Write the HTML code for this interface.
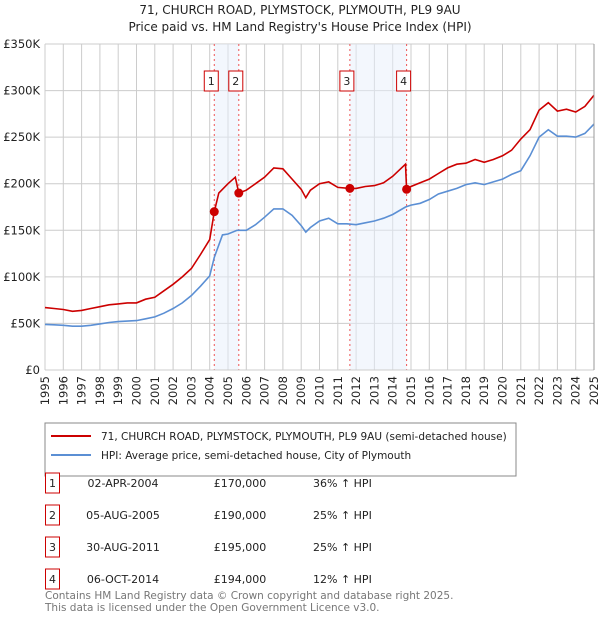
<!DOCTYPE html>
<html><head><meta charset="utf-8"><style>
body{margin:0;background:#fff;font-family:"Liberation Sans","DejaVu Sans",sans-serif}
svg text{font-family:"DejaVu Sans","Liberation Sans",sans-serif}
</style></head><body>
<svg id="c" width="600" height="620" xmlns="http://www.w3.org/2000/svg">
<text x="300" y="14" text-anchor="middle" font-size="12" fill="#222">71, CHURCH ROAD, PLYMSTOCK, PLYMOUTH, PL9 9AU</text>
<text x="300" y="31" text-anchor="middle" font-size="12" fill="#222">Price paid vs. HM Land Registry's House Price Index (HPI)</text>
<g id="grid"></g><g id="shade"></g><g id="lines"></g><g id="marks"></g><g id="axes"></g>
<rect x="45" y="423" width="471" height="53" fill="#fff" stroke="#888"/>
<line x1="51" y1="436" x2="91" y2="436" stroke="#cc0000" stroke-width="2"/>
<text x="101" y="440" font-size="10.5" fill="#222">71, CHURCH ROAD, PLYMSTOCK, PLYMOUTH, PL9 9AU (semi-detached house)</text>
<line x1="51" y1="455" x2="91" y2="455" stroke="#5b8fd4" stroke-width="2"/>
<text x="101" y="459" font-size="10.5" fill="#222">HPI: Average price, semi-detached house, City of Plymouth</text>
<g id="table"></g>
<text x="45" y="599" font-size="10.5" fill="#777">Contains HM Land Registry data © Crown copyright and database right 2025.</text>
<text x="45" y="611" font-size="10.5" fill="#777">This data is licensed under the Open Government Licence v3.0.</text>
</svg>
<script>
const hpiYears=[1995,1995.5,1996,1996.5,1997,1997.5,1998,1998.5,1999,1999.5,2000,2000.5,2001,2001.5,2002,2002.5,2003,2003.5,2004,2004.25,2004.7,2005,2005.5,2006,2006.5,2007,2007.5,2008,2008.5,2009,2009.25,2009.5,2010,2010.5,2011,2011.5,2012,2012.5,2013,2013.5,2014,2014.7,2015,2015.5,2016,2016.5,2017,2017.5,2018,2018.5,2019,2019.5,2020,2020.5,2021,2021.5,2022,2022.5,2023,2023.5,2024,2024.5,2025];
const hpiValues=[49,48.5,48,47,47,48,49.5,51,52,52.5,53,55,57,61,66,72,80,90,101,121,145,146,150,150,156,164,173,173,166,155,148,153,160,163,157,157,156,158,160,163,167,175,177,179,183,189,192,195,199,201,199,202,205,210,214,230,250,258,251,251,250,254,264];
const propYears=[1995,1995.5,1996,1996.5,1997,1997.5,1998,1998.5,1999,1999.5,2000,2000.5,2001,2001.5,2002,2002.5,2003,2003.5,2004,2004.25,2004.5,2005,2005.4,2005.59,2006,2006.5,2007,2007.5,2008,2008.5,2009,2009.25,2009.5,2010,2010.5,2011,2011.66,2012,2012.5,2013,2013.5,2014,2014.7,2014.76,2015,2015.5,2016,2016.5,2017,2017.5,2018,2018.5,2019,2019.5,2020,2020.5,2021,2021.5,2022,2022.5,2023,2023.5,2024,2024.5,2025];
const propValues=[67,66,65,63,64,66,68,70,71,72,72,76,78,85,92,100,109,124,140,170,190,200,207,190,193,200,207,217,216,205,194,185,193,200,202,196,195,195,197,198,201,208,221,194,197,201,205,211,217,221,222,226,223,226,230,236,248,258,279,287,278,280,277,283,295];
const saleYears=[2004.25,2005.59,2011.66,2014.76];
const salePrices=[170,190,195,194];
const saleLabels=["1","2","3","4"];
const saleDates=["02-APR-2004","05-AUG-2005","30-AUG-2011","06-OCT-2014"];
const salePriceText=["£170,000","£190,000","£195,000","£194,000"];
const salePct=["36% ↑ HPI","25% ↑ HPI","25% ↑ HPI","12% ↑ HPI"];
const yTicks=[0,50,100,150,200,250,300,350];
const yTickLabels=["£0","£50K","£100K","£150K","£200K","£250K","£300K","£350K"];
const xTicks=[1995,1996,1997,1998,1999,2000,2001,2002,2003,2004,2005,2006,2007,2008,2009,2010,2011,2012,2013,2014,2015,2016,2017,2018,2019,2020,2021,2022,2023,2024,2025];

const NS="http://www.w3.org/2000/svg";
const X0=45,X1=594,Y0=370,Y1=44;
const xs=v=>X0+(v-1995)/30*(X1-X0);
const ys=v=>Y0-v/350*(Y0-Y1);
function mk(tag,attrs,parent,txt){const e=document.createElementNS(NS,tag);for(const k in attrs)e.setAttribute(k,attrs[k]);if(txt!==undefined)e.textContent=txt;document.getElementById(parent).appendChild(e);return e;}
yTicks.forEach((t,i)=>{
 const l=mk('line',{x1:X0,x2:X1,y1:ys(t),y2:ys(t),stroke:'#cccccc'},'grid');
 
 
 const tx=mk('text',{x:40,y:ys(t)+4,'text-anchor':'end','font-size':'11.5',fill:'#222'},'axes',yTickLabels[i]);
 
 
});
xTicks.forEach(t=>{
 const l=mk('line',{x1:xs(t),x2:xs(t),y1:Y1,y2:Y0,stroke:'#cccccc'},'grid');
 
 
 const tx=mk('text',{x:0,y:0,'text-anchor':'end','font-size':'11.5',fill:'#222',transform:`translate(${xs(t)+4},376) rotate(-90)`},'axes',String(t));
 
 
});
[[0,1],[2,3]].forEach(p=>{
 const r=mk('rect',{x:xs(saleYears[p[0]]),y:Y1,width:xs(saleYears[p[1]])-xs(saleYears[p[0]]),height:Y0-Y1,fill:'#e8effc',opacity:0.5},'shade');
 
 
});
saleYears.forEach((s,i)=>{
 const l=mk('line',{x1:xs(s),x2:xs(s),y1:Y1,y2:Y0,stroke:'#ee5555','stroke-dasharray':'2,3','stroke-width':1},'shade');
 
 
 const b=mk('rect',{x:xs(s)-10,y:71,width:14,height:20,fill:'#fff',stroke:'#cc0000'},'marks');
 
 
 const t=mk('text',{x:xs(s)-3,y:85,'text-anchor':'middle','font-size':'11',fill:'#222'},'marks',saleLabels[i]);
 
 
});
function path(xv,yv,col,name){
 const d=xv.map((x,i)=>(i?'L':'M')+xs(x).toFixed(1)+','+ys(yv[i]).toFixed(1)).join('');
 const p=mk('path',{d:d,fill:'none',stroke:col,'stroke-width':1.6},'lines');
 
 
}
path(hpiYears,hpiValues,'#5b8fd4','hpi-line');
path(propYears,propValues,'#cc0000','property-price-line');
saleYears.forEach((s,i)=>{
 const c=mk('circle',{cx:xs(s),cy:ys(salePrices[i]),r:4.5,fill:'#cc0000'},'marks');
 
 
});
mk('line',{x1:X0,x2:X1,y1:Y0,y2:Y0,stroke:'#cccccc'},'axes');
mk('line',{x1:X1,x2:X1,y1:Y1,y2:Y0,stroke:'#999'},'axes');
saleLabels.forEach((lab,i)=>{
 const cy=483+i*32;
 const b=mk('rect',{x:45.5,y:cy-10,width:14,height:20,fill:'#fff',stroke:'#cc0000'},'table');
 
 
 const t=[mk('text',{x:52.5,y:cy+4,'text-anchor':'middle','font-size':'11',fill:'#222'},'table',lab),
 mk('text',{x:123,y:cy+4,'text-anchor':'middle','font-size':'11',fill:'#222'},'table',saleDates[i]),
 mk('text',{x:240,y:cy+4,'text-anchor':'middle','font-size':'11',fill:'#222'},'table',salePriceText[i]),
 mk('text',{x:313,y:cy+4,'font-size':'11',fill:'#222'},'table',salePct[i])];
 t.forEach(e=>{
  
  
 });
});
</script>
</body></html>
